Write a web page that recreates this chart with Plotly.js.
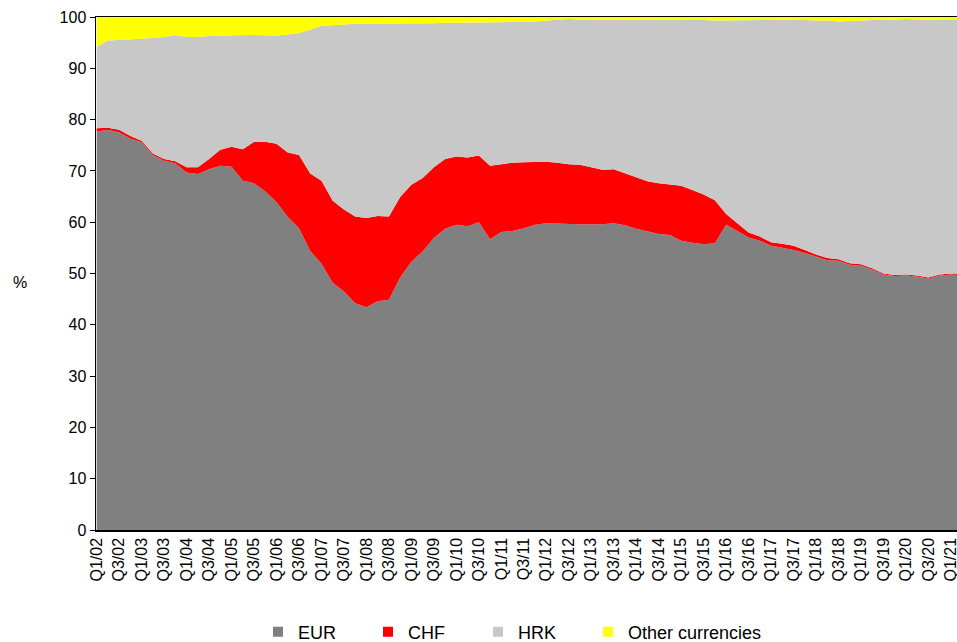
<!DOCTYPE html>
<html>
<head>
<meta charset="utf-8">
<script src="https://cdn.plot.ly/plotly-3.0.1.min.js"></script>
<style>html,body{margin:0;padding:0;background:#fff;}#chart{width:957px;height:642px;}</style>
</head>
<body>
<div id="chart"></div>
<script>
const quarters = ["Q1/02","Q2/02","Q3/02","Q4/02","Q1/03","Q2/03","Q3/03","Q4/03","Q1/04","Q2/04","Q3/04","Q4/04","Q1/05","Q2/05","Q3/05","Q4/05","Q1/06","Q2/06","Q3/06","Q4/06","Q1/07","Q2/07","Q3/07","Q4/07","Q1/08","Q2/08","Q3/08","Q4/08","Q1/09","Q2/09","Q3/09","Q4/09","Q1/10","Q2/10","Q3/10","Q4/10","Q1/11","Q2/11","Q3/11","Q4/11","Q1/12","Q2/12","Q3/12","Q4/12","Q1/13","Q2/13","Q3/13","Q4/13","Q1/14","Q2/14","Q3/14","Q4/14","Q1/15","Q2/15","Q3/15","Q4/15","Q1/16","Q2/16","Q3/16","Q4/16","Q1/17","Q2/17","Q3/17","Q4/17","Q1/18","Q2/18","Q3/18","Q4/18","Q1/19","Q2/19","Q3/19","Q4/19","Q1/20","Q2/20","Q3/20","Q4/20","Q1/21","Q2/21"];

const tickLabels = ["Q1/02","Q3/02","Q1/03","Q3/03","Q1/04","Q3/04","Q1/05","Q3/05","Q1/06","Q3/06","Q1/07","Q3/07","Q1/08","Q3/08","Q1/09","Q3/09","Q1/10","Q3/10","Q1/11","Q3/11","Q1/12","Q3/12","Q1/13","Q3/13","Q1/14","Q3/14","Q1/15","Q3/15","Q1/16","Q3/16","Q1/17","Q3/17","Q1/18","Q3/18","Q1/19","Q3/19","Q1/20","Q3/20","Q1/21"];

const eur = [77.7,78.0,77.5,76.3,75.6,73.1,72.0,71.5,69.7,69.4,70.3,71.0,70.8,68.1,67.6,66.0,63.9,61.0,58.8,54.4,51.9,48.2,46.5,44.2,43.4,44.6,44.9,49.2,52.3,54.3,56.9,58.7,59.5,59.2,60.0,56.7,58.1,58.3,58.8,59.5,59.8,59.7,59.6,59.6,59.6,59.6,59.8,59.4,58.7,58.2,57.7,57.5,56.4,56.0,55.7,55.9,59.5,58.3,57.0,56.4,55.4,55.0,54.6,54.0,53.3,52.6,52.5,51.7,51.5,50.8,49.8,49.5,49.6,49.4,49.0,49.6,49.8,49.6];

const chf = [0.6,0.4,0.5,0.5,0.3,0.3,0.3,0.4,1.0,1.3,2.0,3.1,3.9,6.1,8.1,9.7,11.4,12.6,14.3,15.1,16.2,16.0,16.0,16.9,17.4,16.6,16.2,15.7,15.0,14.3,13.8,13.6,13.3,13.4,13.0,14.3,13.2,13.3,12.9,12.2,12.0,11.9,11.7,11.6,11.1,10.6,10.5,10.1,10.1,9.8,9.9,9.8,10.7,10.3,9.7,8.4,2.1,1.5,1.0,0.8,0.7,0.8,0.8,0.6,0.4,0.4,0.3,0.3,0.3,0.2,0.2,0.2,0.2,0.2,0.2,0.2,0.2,0.3];

const hrk = [15.9,17.0,17.5,18.8,19.8,22.5,23.8,24.6,25.4,25.4,24.0,22.3,21.8,22.3,20.8,20.7,21.1,23.0,23.8,28.0,30.2,34.2,36.1,37.6,37.9,37.5,37.7,33.9,31.5,30.2,28.1,26.6,26.1,26.3,25.9,28.0,27.7,27.5,27.4,27.4,27.5,27.9,28.3,28.3,28.8,29.3,29.2,30.0,30.7,31.5,31.9,32.2,32.4,33.1,34.0,35.0,37.7,39.5,41.3,42.2,43.4,43.7,44.1,44.8,45.6,46.3,46.3,47.2,47.6,48.4,49.5,49.8,49.8,49.9,50.2,49.6,49.4,49.5];

const other = [5.8,4.6,4.5,4.4,4.3,4.1,3.9,3.5,3.9,3.9,3.7,3.6,3.5,3.5,3.5,3.6,3.6,3.4,3.1,2.5,1.7,1.6,1.4,1.3,1.3,1.3,1.2,1.2,1.2,1.2,1.2,1.1,1.1,1.1,1.1,1.0,1.0,0.9,0.9,0.9,0.7,0.5,0.4,0.5,0.5,0.5,0.5,0.5,0.5,0.5,0.5,0.5,0.5,0.6,0.6,0.7,0.7,0.7,0.7,0.6,0.5,0.5,0.5,0.6,0.7,0.7,0.9,0.8,0.6,0.6,0.5,0.5,0.4,0.5,0.6,0.6,0.6,0.6];

const seriesNames = ["EUR","CHF","HRK","Other currencies"];
const seriesColors = ["#808080","#FF0000","#C8C8C8","#FFFF00"];
const seriesData = [eur, chf, hrk, other];

const FONT = "Liberation Sans, Arial, sans-serif";
const legendIds = ["legend","legend2","legend3","legend4"];
const legendLeftPx = [258, 368, 478, 588];

const traces = [];
seriesData.forEach((vals, k) => {
  traces.push({
    type: "scatter", mode: "lines", x: quarters, y: vals,
    stackgroup: "one", line: {width: 0, color: seriesColors[k]},
    fillcolor: seriesColors[k], name: seriesNames[k], showlegend: false,
    hoverinfo: "x+y+name"
  });
});
seriesNames.forEach((n, k) => {
  traces.push({
    type: "scatter", mode: "markers", x: [null], y: [null], name: n,
    marker: {symbol: "square", size: 10, color: seriesColors[k]},
    showlegend: true, legend: legendIds[k]
  });
});

const layout = {
  width: 957, height: 642,
  margin: {l: 96, r: 0, t: 17, b: 112, autoexpand: false},
  paper_bgcolor: "#fff", plot_bgcolor: "#fff",
  font: {family: FONT, size: 16, color: "#000"},
  showlegend: true,
  xaxis: {
    type: "category", range: [-0.06, 76.54], automargin: false,
    tickmode: "array", tickvals: tickLabels, ticktext: tickLabels,
    tickangle: -90, ticks: "", showgrid: false, zeroline: false,
    showline: true, linecolor: "#000", linewidth: 1.5, mirror: true,
    tickfont: {family: FONT, size: 16, color: "#000"}
  },
  yaxis: {
    range: [0, 100], dtick: 10, tick0: 0, ticks: "outside", ticklen: 5,
    tickcolor: "#000", showgrid: false, zeroline: false, automargin: false,
    showline: true, linecolor: "#000", linewidth: 1.5,
    tickfont: {family: FONT, size: 16, color: "#000"}
  },
  annotations: [{
    text: "%", xref: "paper", yref: "paper", x: (20 - 96) / 861, y: 0.483,
    xanchor: "center", yanchor: "middle", showarrow: false,
    font: {family: FONT, size: 16, color: "#000"}
  }]
};
legendIds.forEach((id, k) => {
  layout[id] = {
    orientation: "h", xref: "container", yref: "container",
    x: legendLeftPx[k] / 957, xanchor: "left",
    y: 10 / 642, yanchor: "middle",
    font: {family: FONT, size: 18, color: "#000"},
    itemwidth: 30, bgcolor: "rgba(0,0,0,0)"
  };
});

Plotly.newPlot("chart", traces, layout, {displayModeBar: false, staticPlot: true});
</script>
</body>
</html>
